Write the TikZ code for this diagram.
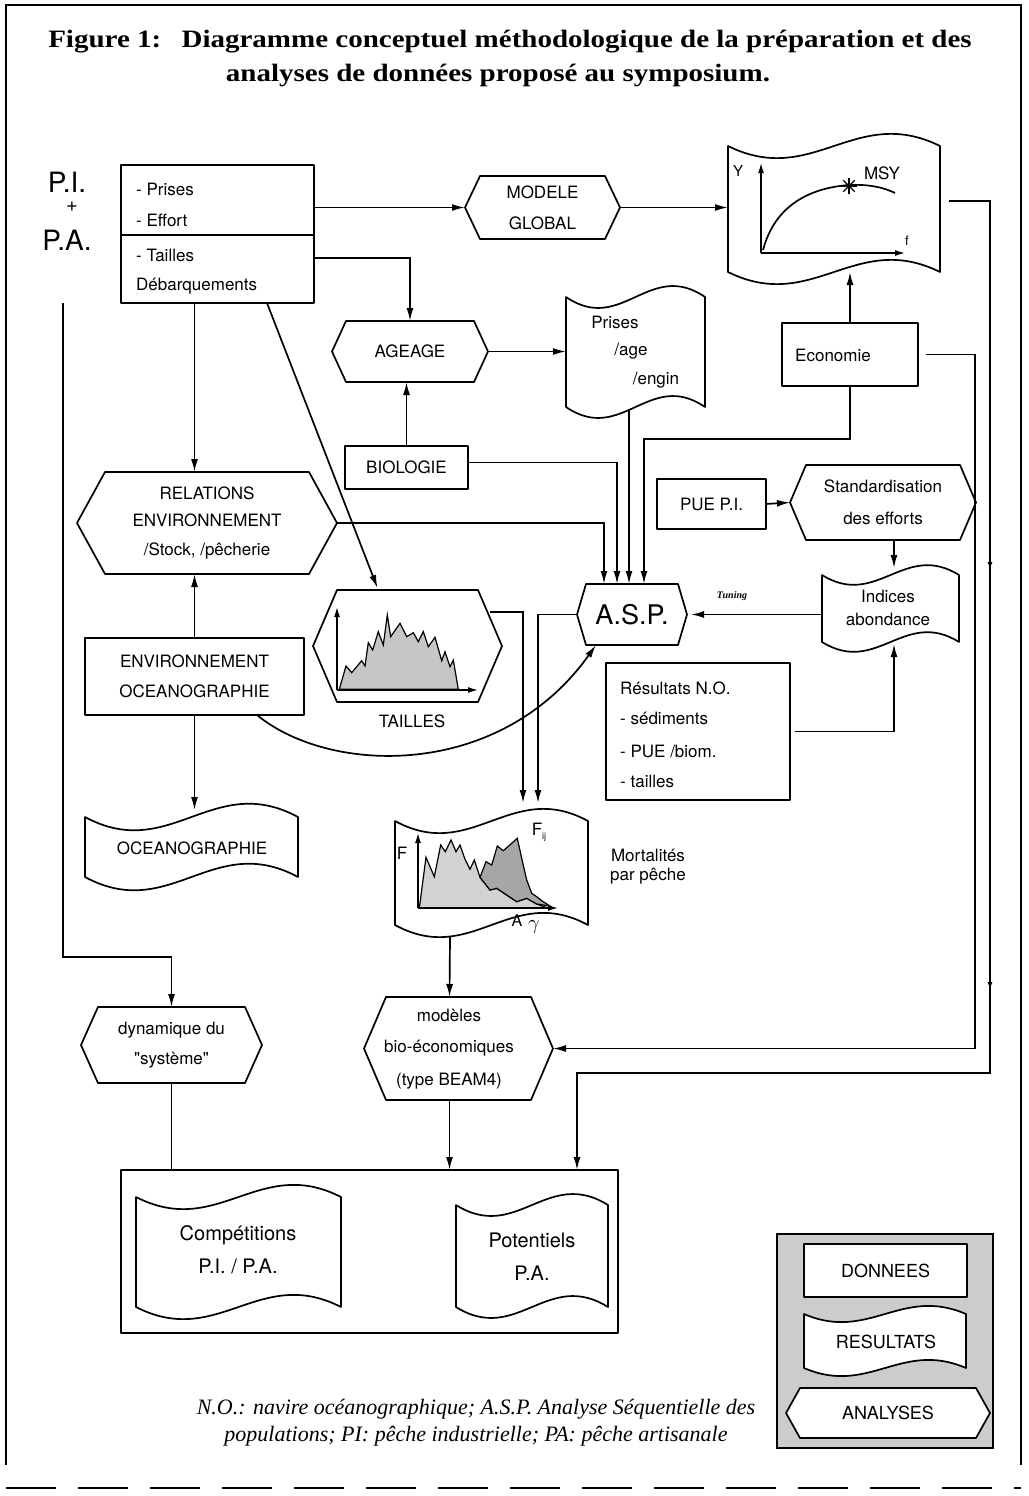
\documentclass[tikz,border=0pt]{standalone}
\usepackage{graphicx}
\usepackage{fontspec}
\newfontfamily\hv{TeX Gyre Heros}
\newfontfamily\ttlfont{Liberation Serif}
\usetikzlibrary{arrows.meta,calc,decorations.markings}

% wavy document: name x0 x1 ytop ybot amp
\newcommand\wdoc[6]{%
  \draw[boxline] (#2,#4) .. controls ({#2+0.4*(#3-#2)},{#4+#6}) and ({#2+0.6*(#3-#2)},{#4-#6}) .. (#3,#4)
     -- (#3,#5) .. controls ({#2+0.6*(#3-#2)},{#5-#6}) and ({#2+0.4*(#3-#2)},{#5+#6}) .. (#2,#5) -- cycle;
  \node[frame0, minimum width={(#3-#2)*1pt}, minimum height={(#5-#4)*1pt}] (#1) at ({(#2+#3)/2},{(#4+#5)/2}) {};}
% hexagon: name x0 x1 ytop ybot inset text
\newcommand\hexn[7]{%
  \draw[boxline] (#2,{(#4+#5)/2}) -- ({#2+#6},#4) -- ({#3-#6},#4) -- (#3,{(#4+#5)/2}) -- ({#3-#6},#5) -- ({#2+#6},#5) -- cycle;
  \node[frame0, minimum width={(#3-#2)*1pt}, minimum height={(#5-#4)*1pt}] (#1) at ({(#2+#3)/2},{(#4+#5)/2}) {#7};}
% rectangle: name x0 x1 ytop ybot text
\newcommand\rectn[6]{%
  \node[boxline, frame0, minimum width={(#3-#2)*1pt}, minimum height={(#5-#4)*1pt}] (#1) at ({(#2+#3)/2},{(#4+#5)/2}) {#6};}

\begin{document}
\begin{tikzpicture}[x=1pt,y=-1pt,
  boxline/.style={draw=black, line width=1.7pt, fill=white, line join=round},
  frame0/.style={inner sep=0pt, outer sep=0pt, align=center, font={\hv\fontsize{17}{31}\selectfont}},
  txt/.style={inner sep=0pt, align=center, font={\hv\fontsize{17}{31}\selectfont}},
  conn/.style={line width=1.7pt, -{Latex[length=13pt,width=7pt]}},
  axis/.style={line width=1.4pt, -{Latex[length=10pt,width=6pt]}},
  plain/.style={line width=1.7pt},
]
\useasboundingbox (0,0) rectangle (1028,1496);
% frame
\draw[line width=1.5pt] (6,1465) -- (6,5) -- (1021,5) -- (1021,1465);
\draw[line width=1.5pt, dash pattern=on 50pt off 22pt] (6,1488) -- (1021,1488);

% title
\node[inner sep=0pt, font={\ttlfont\bfseries\fontsize{25}{30}\selectfont}] (t1) at (510,42) {\scalebox{1.16}[1]{Figure 1:\hspace{0.7em}Diagramme conceptuel méthodologique de la préparation et des}};
\node[inner sep=0pt, font={\ttlfont\bfseries\fontsize{25}{30}\selectfont}] (t2) at (498,76) {\scalebox{1.16}[1]{analyses de données proposé au symposium.}};

% P.I. + P.A.
\node[inner sep=0pt, font={\hv\fontsize{28}{30}\selectfont}] (pi) at (67,182) {P.I.};
\node[inner sep=0pt, font={\hv\fontsize{20}{20}\selectfont}] (plus) at (72,207) {+};
\node[inner sep=0pt, font={\hv\fontsize{28}{30}\selectfont}] (pa) at (67,240) {P.A.};

% source box
\rectn{src1}{121}{314}{165}{235}{}
\rectn{src2}{121}{314}{235}{303}{}
\node[txt, anchor=west] (tp1) at (136,189) {- Prises};
\node[txt, anchor=west] (tp2) at (136,220) {- Effort};
\node[txt, anchor=west] (tp3) at (136,255) {- Tailles};
\node[txt, anchor=west] (tp4) at (136,286) {Débarquements};

% shapes
\hexn{modele}{465}{620}{176}{239}{15}{MODELE\\GLOBAL}
\wdoc{msy}{728}{940}{146}{272}{42}
\hexn{ageage}{332}{488}{321}{382}{14}{AGEAGE}
\wdoc{prises}{566}{705}{297}{407}{38}
\node[txt] (prt1) at (615,322) {Prises};
\node[txt] (prt2) at (631,351) {/age};
\node[txt] (prt3) at (656,380) {/engin};
\rectn{eco}{782}{918}{323}{386}{}
\node[txt, anchor=west] (ecot) at (795,355) {Economie};
\rectn{bio}{345}{468}{446}{489}{BIOLOGIE}
\hexn{rel}{77}{337}{472}{574}{28}{RELATIONS\\[-4pt]ENVIRONNEMENT\\[-2pt]/Stock, /pêcherie}
\rectn{pue}{657}{766}{479}{529}{PUE P.I.}
\hexn{std}{790}{976}{465}{540}{16}{Standardisation\\[1pt]des efforts}
\hexn{asp}{577}{687}{584}{645}{9}{{\fontsize{27}{30}\selectfont A.S.P.}}
\wdoc{ind}{822}{959}{575}{642}{34}
\node[txt] (indt1) at (888,596) {Indices};
\node[txt] (indt2) at (888,619) {abondance};
\rectn{env}{85}{304}{638}{715}{ENVIRONNEMENT\\[-1pt]OCEANOGRAPHIE}
\hexn{tailles}{313}{502}{590}{702}{24}{}
\node[txt] (taillest) at (412,721) {TAILLES};
\rectn{res}{606}{790}{663}{800}{}
\node[txt, anchor=west] (rt1) at (620,688) {Résultats N.O.};
\node[txt, anchor=west] (rt2) at (620,718) {- sédiments};
\node[txt, anchor=west] (rt3) at (620,751) {- PUE /biom.};
\node[txt, anchor=west] (rt4) at (620,781) {- tailles};
\wdoc{ocean}{85}{298}{817}{877}{46}
\node[txt] (oceant) at (192,848) {OCEANOGRAPHIE};
\wdoc{mort}{395}{588}{821}{925}{42}
\node[txt, anchor=west, font={\hv\fontsize{17}{19}\selectfont}] (mortt) at (610,867) {Mortalités\\par pêche};
\hexn{dyn}{81}{262}{1007}{1083}{17}{dynamique du\\[-1pt]"système"}
\hexn{modeles}{364}{553}{997}{1100}{22}{}
\node[txt] (modt) at (449,1049) {modèles\\[0pt]bio-économiques\\[2pt](type BEAM4)};

% MSY chart
\draw[axis] (761,253) -- (761,163);
\draw[axis] (761,253) -- (905,253);
\draw[plain] (763,250) .. controls (775,205) and (810,188) .. (849,185) .. controls (870,184) and (885,188) .. (895,193);
\foreach \a in {0,45,90,135} \draw[line width=1.3pt] (849,186) -- +(\a:8) -- +(\a+180:8);
\node[txt, font={\hv\fontsize{15}{15}\selectfont}] (ly) at (738,171) {Y};
\node[txt] (lmsy) at (882,173) {MSY};
\node[txt, font={\hv\fontsize{13}{13}\selectfont}] (lf) at (907,241) {f};

% TAILLES histogram
\fill[gray!45, draw=black, line width=1.2pt] (339.3,689.3) -- (346,666) -- (351.7,672.7) -- (361.7,660.7) -- (365,666) -- (368.3,642.7) -- (372.7,650) -- (378.3,631.7) -- (383.3,645) -- (387.3,615) -- (390.7,636.7) -- (400,623.3) -- (406.7,636.7) -- (413.3,632.7) -- (418.3,641.7) -- (423.3,631.7) -- (428.3,646.7) -- (435,637.3) -- (441.7,660.7) -- (445,651.7) -- (450,666.7) -- (453.3,660) -- (458.3,689.3) -- cycle;
\draw[axis] (337,690) -- (337,607);
\draw[axis] (337,690) -- (478,690);

% Mortalites chart
\fill[gray!35, draw=black, line width=1.2pt] (419.3,908.3) -- (426,857.3) -- (434.3,876.7) -- (440.7,845) -- (445.3,851.7) -- (451,840) -- (456,851.7) -- (460,845) -- (465,859.3) -- (470,869.3) -- (474.3,860) -- (480,877.3) -- (490,890) -- (496.7,888.3) -- (506.7,895) -- (516.7,901.7) -- (526.7,898.3) -- (536.7,904) -- (546.7,907.7) -- (548,908) -- cycle;
\fill[gray!70, draw=black, line width=1.2pt] (480,877.3) -- (486,861.7) -- (491.7,865) -- (497.3,846) -- (503.3,850.7) -- (517.3,838.3) -- (521.7,858.3) -- (526.7,880) -- (531.7,893.3) -- (536.7,896.7) -- (541.7,900.7) -- (550,906) -- (536.7,904) -- (526.7,898.3) -- (516.7,901.7) -- (506.7,895) -- (496.7,888.3) -- (490,890) -- cycle;
\draw[axis] (418,908) -- (418,833);
\draw[axis] (418,908) -- (558,908);
\node[txt] (lF) at (402,853) {F};
\node[txt] (lFij) at (539,832) {F\raisebox{-4pt}{\fontsize{9}{9}\selectfont ij}};
\node[txt, font={\hv\fontsize{16}{16}\selectfont}] (lA) at (517,921) {A};
\node[inner sep=0pt] (lg) at (534,927) {\fontsize{22}{22}\selectfont$\gamma$};

% bottom box
\rectn{bot}{121}{618}{1170}{1333}{}
\wdoc{comp}{136}{341}{1197}{1307}{42}
\node[txt, font={\hv\fontsize{20}{33}\selectfont}] (compt) at (238,1250) {Compétitions\\P.I. / P.A.};
\wdoc{pot}{456}{608}{1205}{1307}{38}
\node[txt, font={\hv\fontsize{20}{33}\selectfont}] (pott) at (532,1257) {Potentiels\\P.A.};

% legend
\node[draw, line width=1.5pt, fill=gray!40, minimum width=216pt, minimum height=214pt, inner sep=0pt] (leg) at (885,1341) {};
\rectn{donnees}{804}{967}{1244}{1297}{{\fontsize{18}{20}\selectfont DONNEES}}
\wdoc{resl}{804}{966}{1314}{1368}{28}
\node[txt, font={\hv\fontsize{18}{20}\selectfont}] (reslt) at (886,1342) {RESULTATS};
\hexn{anal}{786}{990}{1388}{1438}{14}{{\fontsize{18}{20}\selectfont ANALYSES}}

% footnote
\node[inner sep=0pt, align=center, font={\ttlfont\itshape\fontsize{22}{27}\selectfont}] (fn) at (476,1423) {N.O.: navire océanographique; A.S.P. Analyse Séquentielle des\\populations; PI: pêche industrielle; PA: pêche artisanale};

% connectors
\draw[conn] (src1.east |- modele.west) -- (modele.west);
\draw[conn] (modele.east) -- (msy.west |- modele.east);
\draw[conn] ($(src2.east)+(0,-11)$) -| (ageage.north);
\draw[conn] (src2.south -| env.north) -- (env.north |- rel.north);
\draw[conn] ($(src2.south)+(49.5,0)$) -- ($(tailles.north)+(-30,-2)$);
\draw[conn] (ageage.east) -- (prises.west |- ageage.east);
\draw[conn] (bio.north) -- (bio.north |- ageage.south);
\draw[conn] ($(bio.east)+(0,-5)$) -| ($(asp.north)+(-15,0)$);
\draw[conn] (rel.east) -| ($(asp.north)+(-28,0)$);
\draw[conn] ($(asp.north |- prises.south)+(-3,2)$) -- ($(asp.north)+(-3,0)$);
\draw[conn] (eco.south) |- ($(asp.north)+(12,-145)$) -- ($(asp.north)+(12,0)$);
\draw[conn] (eco.north) -- (eco.north |- msy.south);
\draw[conn] (pue.east) -- (std.west);
\draw[conn] ($(std.south)+(11,0)$) -- ($(std.south |- ind.north)+(11,-7)$);
\draw[conn] ($(res.east)+(5,0)$) -| ($(ind.south)+(3.5,2)$);
\draw[conn] (ind.west |- asp.east) -- ($(asp.east)+(4,0)$);
\node[inner sep=0pt, font={\ttlfont\bfseries\itshape\fontsize{10}{10}\selectfont}] (tun) at (732,596) {Tuning};
\draw[conn] (asp.west) -| ($(mort.north)+(46.5,-18)$);
\draw[conn] ($(tailles.east)+(-12,-34)$) -| ($(mort.north)+(31.5,-18)$);
\draw[conn] ($(env.south)+(62.5,0)$) .. controls (330,775) and (500,780) .. ($(asp.south)+(-36,0)$);
\draw[conn] (env.north) -- (env.north |- rel.south);
\draw[conn] (env.south) -- ($(env.south |- ocean.north)+(0,-7)$);
\coordinate (lst) at (63,303);
\coordinate (lc) at (63,957);
\draw[conn] (lst) -- (lc) -| (dyn.north);
\draw[plain] (dyn.south) -- (dyn.south |- bot.north);
\draw[conn] ($(mort.south)+(-41.5,12)$) -- ($(modeles.north)+(-9,0)$);
\draw[conn] ($(modeles.south)+(-9,0)$) -- ($(modeles.south |- bot.north)+(-9,0)$);
\coordinate (r1) at (990,1073);
\draw[conn, decoration={markings,
    mark=at position 410pt with {\arrow{Latex[length=8pt,width=5pt]}},
    mark=at position 830pt with {\arrow{Latex[length=8pt,width=5pt]}}}, postaction={decorate}]
  ($(msy.east)+(9,-8)$) -| (r1) -| ($(bot.north)+(207.5,0)$);
\coordinate (r2) at (975,1048.5);
\draw[conn] ($(eco.east)+(8,0)$) -| (r2) -- (modeles.east);
\end{tikzpicture}
\end{document}
